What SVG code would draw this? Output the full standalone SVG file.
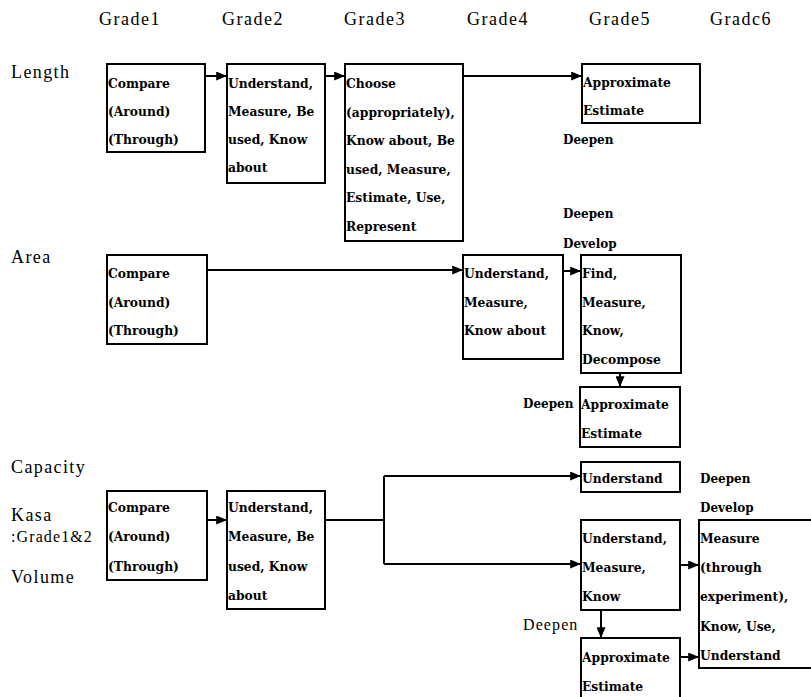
<svg xmlns="http://www.w3.org/2000/svg" width="811" height="697" viewBox="0 0 811 697">
<defs>
<style>
.hd{font-family:"Liberation Serif","Times New Roman",serif;font-size:18px;letter-spacing:1.5px;fill:#000}
.rl{font-family:"Liberation Serif","Times New Roman",serif;font-size:18px;letter-spacing:1.4px;fill:#000}
.sm{font-family:"Liberation Serif","Times New Roman",serif;font-size:16px;letter-spacing:1.1px;fill:#000}
.bx{fill:#fff;stroke:#000;stroke-width:2}
.t{font-family:"DejaVu Serif","Liberation Serif",serif;font-size:12.3px;font-weight:bold;fill:#000}
.lb{font-family:"DejaVu Serif","Liberation Serif",serif;font-size:12px;font-weight:bold;fill:#000}
.c{fill:none;stroke:#000;stroke-width:2}
</style>
<marker id="ah" viewBox="0 0 12 10" refX="12" refY="5" markerWidth="12" markerHeight="9" markerUnits="userSpaceOnUse" orient="auto"><path d="M0,0 L12,5 L0,10 z" fill="#000"/></marker>
</defs>
<rect width="811" height="697" fill="#fff"/>
<g id="headers">
<text class="hd" x="99" y="25">Grade1</text>
<text class="hd" x="222" y="25">Grade2</text>
<text class="hd" x="344" y="25">Grade3</text>
<text class="hd" x="467" y="25">Grade4</text>
<text class="hd" x="589" y="25">Grade5</text>
<text class="hd" x="710" y="25">Gradc6</text>
</g>
<g id="row-labels">
<text class="rl" x="11" y="78">Length</text>
<text class="rl" x="11" y="263">Area</text>
<text class="rl" x="11" y="473">Capacity</text>
<text class="rl" x="11" y="521">Kasa</text>
<text class="sm" x="11" y="542">:Grade1&amp;2</text>
<text class="rl" x="11" y="583">Volume</text>
</g>
<g id="connectors">
<line class="c" x1="205" y1="76" x2="227" y2="76" marker-end="url(#ah)"/>
<line class="c" x1="325" y1="76" x2="345" y2="76" marker-end="url(#ah)"/>
<line class="c" x1="463" y1="76" x2="582" y2="76" marker-end="url(#ah)"/>
<line class="c" x1="207" y1="270" x2="463" y2="270" marker-end="url(#ah)"/>
<line class="c" x1="563" y1="271" x2="581" y2="271" marker-end="url(#ah)"/>
<line class="c" x1="620" y1="373" x2="620" y2="387" marker-end="url(#ah)"/>
<line class="c" x1="207" y1="520" x2="227" y2="520" marker-end="url(#ah)"/>
<path class="c" d="M325,520 H384"/>
<path class="c" d="M384,476 V564"/>
<line class="c" x1="384" y1="476" x2="581" y2="476" marker-end="url(#ah)"/>
<line class="c" x1="384" y1="564" x2="581" y2="564" marker-end="url(#ah)"/>
<line class="c" x1="680" y1="565" x2="699" y2="565" marker-end="url(#ah)"/>
<line class="c" x1="601" y1="610" x2="601" y2="638" marker-end="url(#ah)"/>
<line class="c" x1="680" y1="657" x2="699" y2="657" marker-end="url(#ah)"/>
</g>
<g id="L1"><rect class="bx" x="107" y="64" width="98" height="88"/>
<text class="t" x="108" y="88">Compare</text><text class="t" x="108" y="116">(Around)</text><text class="t" x="108" y="144">(Through)</text></g>
<g id="L2"><rect class="bx" x="227" y="64" width="98" height="119"/>
<text class="t" x="228" y="88">Understand,</text><text class="t" x="228" y="116">Measure, Be</text><text class="t" x="228" y="144">used, Know</text><text class="t" x="228" y="172">about</text></g>
<g id="L3"><rect class="bx" x="345" y="64" width="118" height="177"/>
<text class="t" x="346" y="88">Choose</text><text class="t" x="346" y="116.5">(appropriately),</text><text class="t" x="346" y="145">Know about, Be</text><text class="t" x="346" y="173.5">used, Measure,</text><text class="t" x="346" y="202">Estimate, Use,</text><text class="t" x="346" y="230.5">Represent</text></g>
<g id="L5"><rect class="bx" x="582" y="64" width="118" height="59"/>
<text class="t" x="583" y="87">Approximate</text><text class="t" x="583" y="115">Estimate</text></g>
<g id="labels-length">
<text class="lb" x="563" y="144">Deepen</text>
<text class="lb" x="563" y="218">Deepen</text>
<text class="lb" x="563" y="248">Develop</text>
</g>
<g id="A1"><rect class="bx" x="107" y="255" width="100" height="89"/>
<text class="t" x="108" y="278">Compare</text><text class="t" x="108" y="307">(Around)</text><text class="t" x="108" y="335">(Through)</text></g>
<g id="A4"><rect class="bx" x="463" y="255" width="100" height="104"/>
<text class="t" x="464" y="278">Understand,</text><text class="t" x="464" y="307">Measure,</text><text class="t" x="464" y="335">Know about</text></g>
<g id="A5"><rect class="bx" x="581" y="255" width="100" height="118"/>
<text class="t" x="582" y="278">Find,</text><text class="t" x="582" y="307">Measure,</text><text class="t" x="582" y="335">Know,</text><text class="t" x="582" y="364">Decompose</text></g>
<g id="A5b"><rect class="bx" x="580" y="387" width="100" height="60"/>
<text class="t" x="581" y="409">Approximate</text><text class="t" x="581" y="438">Estimate</text></g>
<g id="labels-area"><text class="lb" x="523" y="408">Deepen</text></g>
<g id="C1"><rect class="bx" x="107" y="491" width="100" height="89"/>
<text class="t" x="108" y="512">Compare</text><text class="t" x="108" y="541">(Around)</text><text class="t" x="108" y="571">(Through)</text></g>
<g id="C2"><rect class="bx" x="227" y="491" width="98" height="118"/>
<text class="t" x="228" y="512">Understand,</text><text class="t" x="228" y="541">Measure, Be</text><text class="t" x="228" y="571">used, Know</text><text class="t" x="228" y="600">about</text></g>
<g id="C5a"><rect class="bx" x="581" y="462" width="99" height="30"/>
<text class="t" x="582" y="483">Understand</text></g>
<g id="C5b"><rect class="bx" x="581" y="520" width="99" height="90"/>
<text class="t" x="582" y="543">Understand,</text><text class="t" x="582" y="572">Measure,</text><text class="t" x="582" y="601">Know</text></g>
<g id="C6"><rect class="bx" x="699" y="520" width="116" height="148"/>
<text class="t" x="700" y="543">Measure</text><text class="t" x="700" y="572">(through</text><text class="t" x="700" y="601">experiment),</text><text class="t" x="700" y="631">Know, Use,</text><text class="t" x="700" y="660">Understand</text></g>
<g id="C5c"><rect class="bx" x="581" y="638" width="99" height="62"/>
<text class="t" x="582" y="662">Approximate</text><text class="t" x="582" y="691">Estimate</text></g>
<g id="labels-capacity">
<text class="lb" x="700" y="483">Deepen</text>
<text class="lb" x="700" y="512">Develop</text>
<text class="sm" x="523" y="630">Deepen</text>
</g>
</svg>
